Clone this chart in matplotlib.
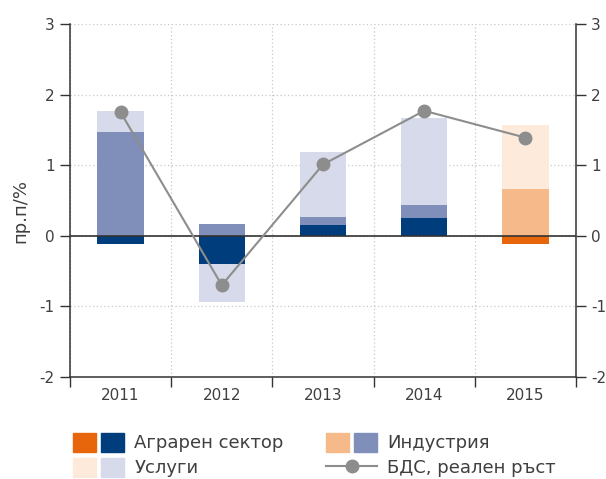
import numpy as np
import matplotlib.pyplot as plt
from matplotlib.patches import Patch
from matplotlib.lines import Line2D
from matplotlib.legend_handler import HandlerTuple

plt.rcParams['font.family'] = ['DejaVu Sans']

years = ['2011', '2012', '2013', '2014', '2015']
agro = [-0.12, -0.40, 0.15, 0.25, -0.12]
industry = [1.47, 0.17, 0.12, 0.19, 0.66]
services = [0.30, -0.54, 0.92, 1.23, 0.91]
gdp = [1.75, -0.70, 1.01, 1.77, 1.39]
forecast = [False, False, False, False, True]

blue = {'agro': '#003d7c', 'ind': '#7f8fb9', 'serv': '#d6daea'}
orange = {'agro': '#e8660b', 'ind': '#f6b98a', 'serv': '#fdeadb'}
text_c = '#3f3f3f'
axis_c = '#333333'
fs = 11

fig = plt.figure(figsize=(6.06, 4.79), dpi=100)
ax = fig.add_axes([0.1155, 0.213, 0.835, 0.737])

x = np.arange(len(years))
pos_base = np.zeros(len(years))
neg_base = np.zeros(len(years))
for key, vals in [('agro', agro), ('ind', industry), ('serv', services)]:
    vals = np.array(vals)
    cols = [orange[key] if f else blue[key] for f in forecast]
    base = np.where(vals >= 0, pos_base, neg_base)
    ax.bar(x, vals, width=0.46, bottom=base, color=cols, zorder=2)
    pos_base += np.where(vals >= 0, vals, 0)
    neg_base += np.where(vals < 0, vals, 0)

ax.plot(x, gdp, color='#8d8d8d', lw=1.5, marker='o', ms=9, zorder=4)
ax.axhline(0, color=axis_c, lw=1.2, zorder=3)

ax.set_ylim(-2, 3)
ax.set_xlim(-0.5, 4.5)
ax.set_yticks([-2, -1, 0, 1, 2, 3])
ax.set_yticklabels(['-2', '-1', '0', '1', '2', '3'])
ax.set_xticks(np.arange(-0.5, 5, 1))
ax.set_xticklabels([])
ax.set_xticks(x, minor=True)
ax.set_xticklabels(years, minor=True)
ax.tick_params(axis='x', which='minor', length=0, pad=8, labelsize=fs, labelcolor=text_c)
ax.tick_params(axis='x', which='major', length=7, width=1, color=axis_c, direction='out')
ax.tick_params(axis='y', length=7, width=1, color=axis_c, labelsize=fs, labelcolor=text_c, pad=4)
ax.grid(True, which='major', color='#c8c8c8', ls=(0, (1, 2)), lw=0.9, zorder=0)
ax.set_axisbelow(True)
for s in ['left', 'right', 'bottom']:
    ax.spines[s].set_color(axis_c)
    ax.spines[s].set_linewidth(1.1)
ax.spines['top'].set_visible(False)
ax.set_ylabel('пр.п/%', fontsize=13, color=text_c, labelpad=4)
ax.yaxis.set_label_coords(-0.08, 0.47)

ax2 = ax.twinx()
ax2.set_ylim(ax.get_ylim())
ax2.set_yticks([-2, -1, 0, 1, 2, 3])
ax2.set_yticklabels(['-2', '-1', '0', '1', '2', '3'])
ax2.tick_params(axis='y', length=7, width=1, color=axis_c, labelsize=fs, labelcolor=text_c, pad=4)
for s in ['left', 'right', 'bottom', 'top']:
    ax2.spines[s].set_visible(False)

h_agro = (Patch(color=orange['agro']), Patch(color=blue['agro']))
h_ind = (Patch(color=orange['ind']), Patch(color=blue['ind']))
h_serv = (Patch(color=orange['serv']), Patch(color=blue['serv']))
h_gdp = Line2D([], [], color='#8d8d8d', lw=1.5, marker='o', ms=9)

leg_kw = dict(handler_map={tuple: HandlerTuple(ndivide=None, pad=0.28)},
              loc='upper left', frameon=False, fontsize=13,
              handlelength=2.85, handleheight=1.22, labelspacing=0.3,
              handletextpad=0.55, borderaxespad=0, borderpad=0)
leg1 = fig.legend([h_agro, h_serv], ['Аграрен сектор', 'Услуги'],
                  bbox_to_anchor=(73 / 606, 1 - 433 / 479), **leg_kw)
leg2 = fig.legend([h_ind, h_gdp], ['Индустрия', 'БДС, реален ръст'],
                  bbox_to_anchor=(326 / 606, 1 - 433 / 479), **leg_kw)
for leg in (leg1, leg2):
    for t in leg.get_texts():
        t.set_color(text_c)

fig.savefig('out.png', dpi=100)
